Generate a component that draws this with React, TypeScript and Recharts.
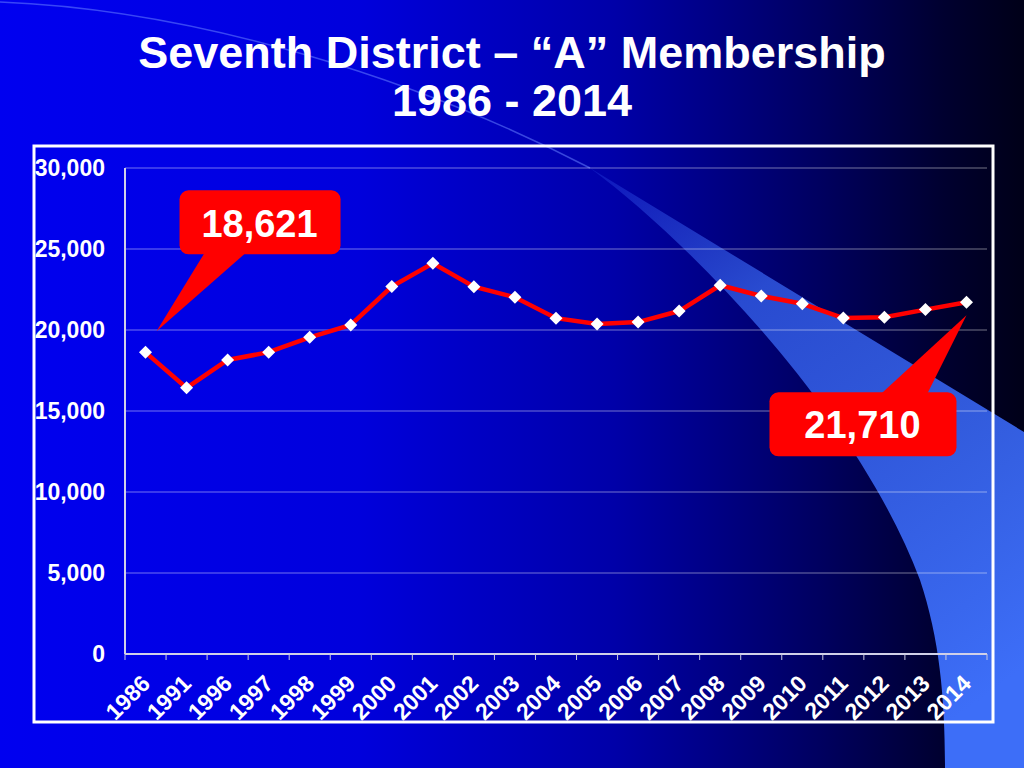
import React from 'react';
import { LineChart, Line, XAxis, YAxis, CartesianGrid, ReferenceDot } from 'recharts';

const years = ['1986', '1991', '1996', '1997', '1998', '1999', '2000', '2001', '2002', '2003', '2004', '2005', '2006', '2007', '2008', '2009', '2010', '2011', '2012', '2013', '2014'];
const members = [18621, 16430, 18150, 18630, 19550, 20310, 22680, 24120, 22670, 22020, 20730, 20370, 20490, 21170, 22760, 22100, 21620, 20740, 20790, 21260, 21710];
const yTicks = [0, 5000, 10000, 15000, 20000, 25000, 30000];
const titleLines = ['Seventh District – “A” Membership', '1986 - 2014'];
const firstCallout = '18,621';
const lastCallout = '21,710';

const data = years.map((year, i) => ({ year, members: members[i] }));

const FONT = '"Liberation Sans", Arial, Helvetica, sans-serif';
const W = 1024;
const H = 768;
const PLOT_W = 862;
const BAND = PLOT_W / years.length;

const Diamond = (props: any) => {
  const { cx, cy } = props;
  if (cx == null || cy == null) return null;
  const s = 6.5;
  return (
    <polygon
      points={`${cx},${cy - s} ${cx + s},${cy} ${cx},${cy + s} ${cx - s},${cy}`}
      fill="#ffffff"
    />
  );
};

const XTick = (props: any) => {
  const { x, y, payload, index } = props;
  const ax = x + 6;
  const ay = y + 31;
  return (
    <g>
      <line x1={x - BAND / 2} y1={y} x2={x - BAND / 2} y2={y + 6} stroke="#c8c8e0" strokeWidth={1} />
      {index === years.length - 1 && (
        <line x1={x + BAND / 2} y1={y} x2={x + BAND / 2} y2={y + 6} stroke="#c8c8e0" strokeWidth={1} />
      )}
      <text
        x={ax}
        y={ay}
        textAnchor="end"
        transform={`rotate(-45, ${ax}, ${ay})`}
        fill="#ffffff"
        fontFamily={FONT}
        fontWeight="bold"
        fontSize={23}
      >
        {payload.value}
      </text>
    </g>
  );
};

const CalloutFirst = (props: any) => {
  const { cx, cy } = props;
  if (cx == null || cy == null) return null;
  return (
    <g>
      <polygon points={`${cx + 60},${cy - 101} ${cx + 102},${cy - 101} ${cx + 11},${cy - 21}`} fill="#ff0000" />
      <rect x={cx + 34} y={cy - 162} width={161} height={64} rx={9} ry={9} fill="#ff0000" />
      <text
        x={cx + 114}
        y={cy - 129}
        dy="0.36em"
        textAnchor="middle"
        fill="#ffffff"
        fontFamily={FONT}
        fontWeight="bold"
        fontSize={38}
      >
        {firstCallout}
      </text>
    </g>
  );
};

const CalloutLast = (props: any) => {
  const { cx, cy } = props;
  if (cx == null || cy == null) return null;
  return (
    <g>
      <polygon points={`${cx - 87},${cy + 93} ${cx - 40},${cy + 93} ${cx},${cy + 13}`} fill="#ff0000" />
      <rect x={cx - 197} y={cy + 90} width={187} height={64} rx={9} ry={9} fill="#ff0000" />
      <text
        x={cx - 104}
        y={cy + 122}
        dy="0.36em"
        textAnchor="middle"
        fill="#ffffff"
        fontFamily={FONT}
        fontWeight="bold"
        fontSize={38}
      >
        {lastCallout}
      </text>
    </g>
  );
};

const Background = () => (
  <svg width={W} height={H} style={{ position: 'absolute', left: 0, top: 0 }}>
    <defs>
      <linearGradient id="bg" x1="0" y1="0" x2="1" y2="0">
        <stop offset="0" stopColor="#0000f0" />
        <stop offset="0.35" stopColor="#0000dc" />
        <stop offset="0.6" stopColor="#0000a8" />
        <stop offset="0.8" stopColor="#000060" />
        <stop offset="0.92" stopColor="#000030" />
        <stop offset="1" stopColor="#000018" />
      </linearGradient>
      <linearGradient id="swoosh" gradientUnits="userSpaceOnUse" x1="590" y1="168" x2="980" y2="700">
        <stop offset="0" stopColor="#3355ee" stopOpacity={0.25} />
        <stop offset="0.3" stopColor="#3058e0" stopOpacity={0.85} />
        <stop offset="1" stopColor="#3d6ef8" stopOpacity={1} />
      </linearGradient>
    </defs>
    <rect x={0} y={0} width={W} height={H} fill="url(#bg)" />
    <path
      d="M 590 168 C 700 250, 860 420, 920 580 C 940 640, 945 700, 945 768 L 1024 768 L 1024 432 Z"
      fill="url(#swoosh)"
    />
    <path d="M 0 2 C 200 10, 420 80, 590 168" fill="none" stroke="#6680ff" strokeOpacity={0.55} strokeWidth={1.5} />
    <text x={512} y={68} textAnchor="middle" fill="#ffffff" fontFamily={FONT} fontWeight="bold" fontSize={45}>
      {titleLines[0]}
    </text>
    <text x={512} y={116} textAnchor="middle" fill="#ffffff" fontFamily={FONT} fontWeight="bold" fontSize={45}>
      {titleLines[1]}
    </text>
    <rect x={34} y={146} width={959} height={576} fill="none" stroke="#ffffff" strokeWidth={3} />
  </svg>
);

export default function App() {
  return (
    <div style={{ position: 'absolute', left: 0, top: 0, width: W, height: H, overflow: 'hidden' }}>
      <Background />
      <div style={{ position: 'absolute', left: 0, top: 0 }}>
        <LineChart width={W} height={H} data={data} margin={{ top: 168, right: 37, bottom: 0, left: 0 }}>
          <CartesianGrid vertical={false} stroke="#ffffff" strokeOpacity={0.45} strokeWidth={1} />
          <XAxis
            dataKey="year"
            height={114}
            interval={0}
            padding={{ left: BAND / 2, right: BAND / 2 }}
            tickSize={0}
            tickMargin={0}
            tickLine={false}
            axisLine={{ stroke: '#d0d0e8', strokeWidth: 2 }}
            tick={<XTick />}
          />
          <XAxis xAxisId="top" orientation="top" dataKey="year" height={0} padding={{ left: BAND / 2, right: BAND / 2 }} tick={false} tickLine={false} axisLine={{ stroke: '#d0d0e8', strokeWidth: 2 }} />
          <YAxis
            width={125}
            domain={[0, 30000]}
            ticks={yTicks}
            tickSize={0}
            tickMargin={20}
            tickLine={false}
            axisLine={{ stroke: '#d0d0e8', strokeWidth: 2 }}
            tickFormatter={(v: number) => v.toLocaleString('en-US')}
            tick={{ fill: '#ffffff', fontFamily: FONT, fontWeight: 'bold', fontSize: 23 }}
          />
          <YAxis yAxisId="right" orientation="right" width={0} domain={[0, 30000]} tick={false} tickLine={false} axisLine={{ stroke: '#d0d0e8', strokeWidth: 2 }} />
          <Line
            type="linear"
            dataKey="members"
            stroke="#ff0000"
            strokeWidth={4.5}
            dot={<Diamond />}
            activeDot={false}
            isAnimationActive={false}
          />
          <ReferenceDot x={years[0]} y={members[0]} ifOverflow="visible" shape={<CalloutFirst />} />
          <ReferenceDot x={years[years.length - 1]} y={members[members.length - 1]} ifOverflow="visible" shape={<CalloutLast />} />
        </LineChart>
      </div>
    </div>
  );
}
